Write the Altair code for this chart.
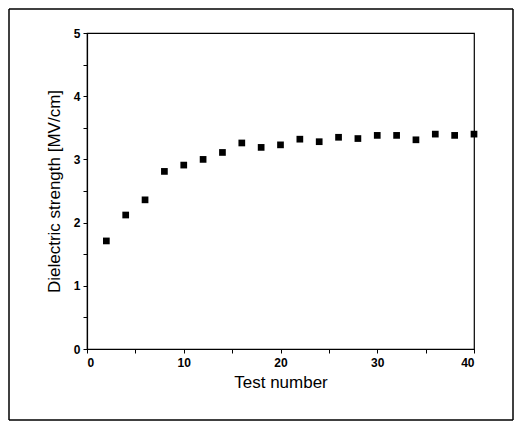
import altair as alt
import pandas as pd

test_number = [2, 4, 6, 8, 10, 12, 14, 16, 18, 20, 22, 24, 26, 28, 30, 32, 34, 36, 38, 40]
strength = [1.71, 2.12, 2.36, 2.81, 2.91, 3.00, 3.11, 3.26, 3.19, 3.23,
            3.32, 3.28, 3.35, 3.33, 3.38, 3.38, 3.31, 3.40, 3.38, 3.40]
x_ticks = [0, 5, 10, 15, 20, 25, 30, 35, 40]
y_ticks = [0, 0.5, 1, 1.5, 2, 2.5, 3, 3.5, 4, 4.5, 5]

df = pd.DataFrame({"x": test_number, "y": strength})

FONT = "Liberation Sans"

points = alt.Chart(df).mark_point(
    shape="square", filled=True, color="black", size=45, opacity=1
).encode(
    x=alt.X("x:Q", scale=alt.Scale(domain=[0, 40], nice=False),
            axis=alt.Axis(values=x_ticks, title="Test number",
                          labelExpr="datum.value % 10 == 0 ? format(datum.value, 'd') : ''",
                          grid=False, tickSize=4, labelFontSize=12,
                          labelFontWeight="bold", titleFontSize=17,
                          titleFontWeight="normal", titlePadding=6,
                          labelPadding=4)),
    y=alt.Y("y:Q", scale=alt.Scale(domain=[0, 5], nice=False),
            axis=alt.Axis(values=y_ticks, title="Dielectric strength [MV/cm]",
                          labelExpr="datum.value % 1 == 0 ? format(datum.value, 'd') : ''",
                          grid=False, tickSize=4, labelFontSize=12,
                          labelFontWeight="bold", titleFontSize=17,
                          titleFontWeight="normal", titlePadding=10,
                          labelPadding=3)),
)

PAD_L, PAD_T, W, H = 79, 25, 387, 316
PAD_R, PAD_B = 40, 72

one = pd.DataFrame({"a": [0]})
L, R, T, B = -PAD_L + 1, W + PAD_R - 1, -PAD_T + 1, H + PAD_B - 1


def rule(x, x2, y, y2):
    return alt.Chart(one).mark_rule(color="black", strokeWidth=1.5).encode(
        x=alt.value(x), x2=alt.value(x2), y=alt.value(y), y2=alt.value(y2)
    )


frame = [rule(L, R, T, T), rule(L, R, B, B), rule(L, L, T, B), rule(R, R, T, B)]

chart = alt.layer(points, *frame).properties(
    width=W, height=H,
    autosize=alt.AutoSizeParams(type="none"),
    padding={"left": PAD_L, "top": PAD_T, "right": PAD_R, "bottom": PAD_B},
).configure_axis(
    labelFont=FONT, titleFont=FONT, domainColor="black", tickColor="black",
    labelColor="black", titleColor="black", domainWidth=1.2,
).configure_view(
    stroke="black", strokeWidth=1.2
)

chart.save("out.html", embed_options={"renderer": "svg", "actions": False})
